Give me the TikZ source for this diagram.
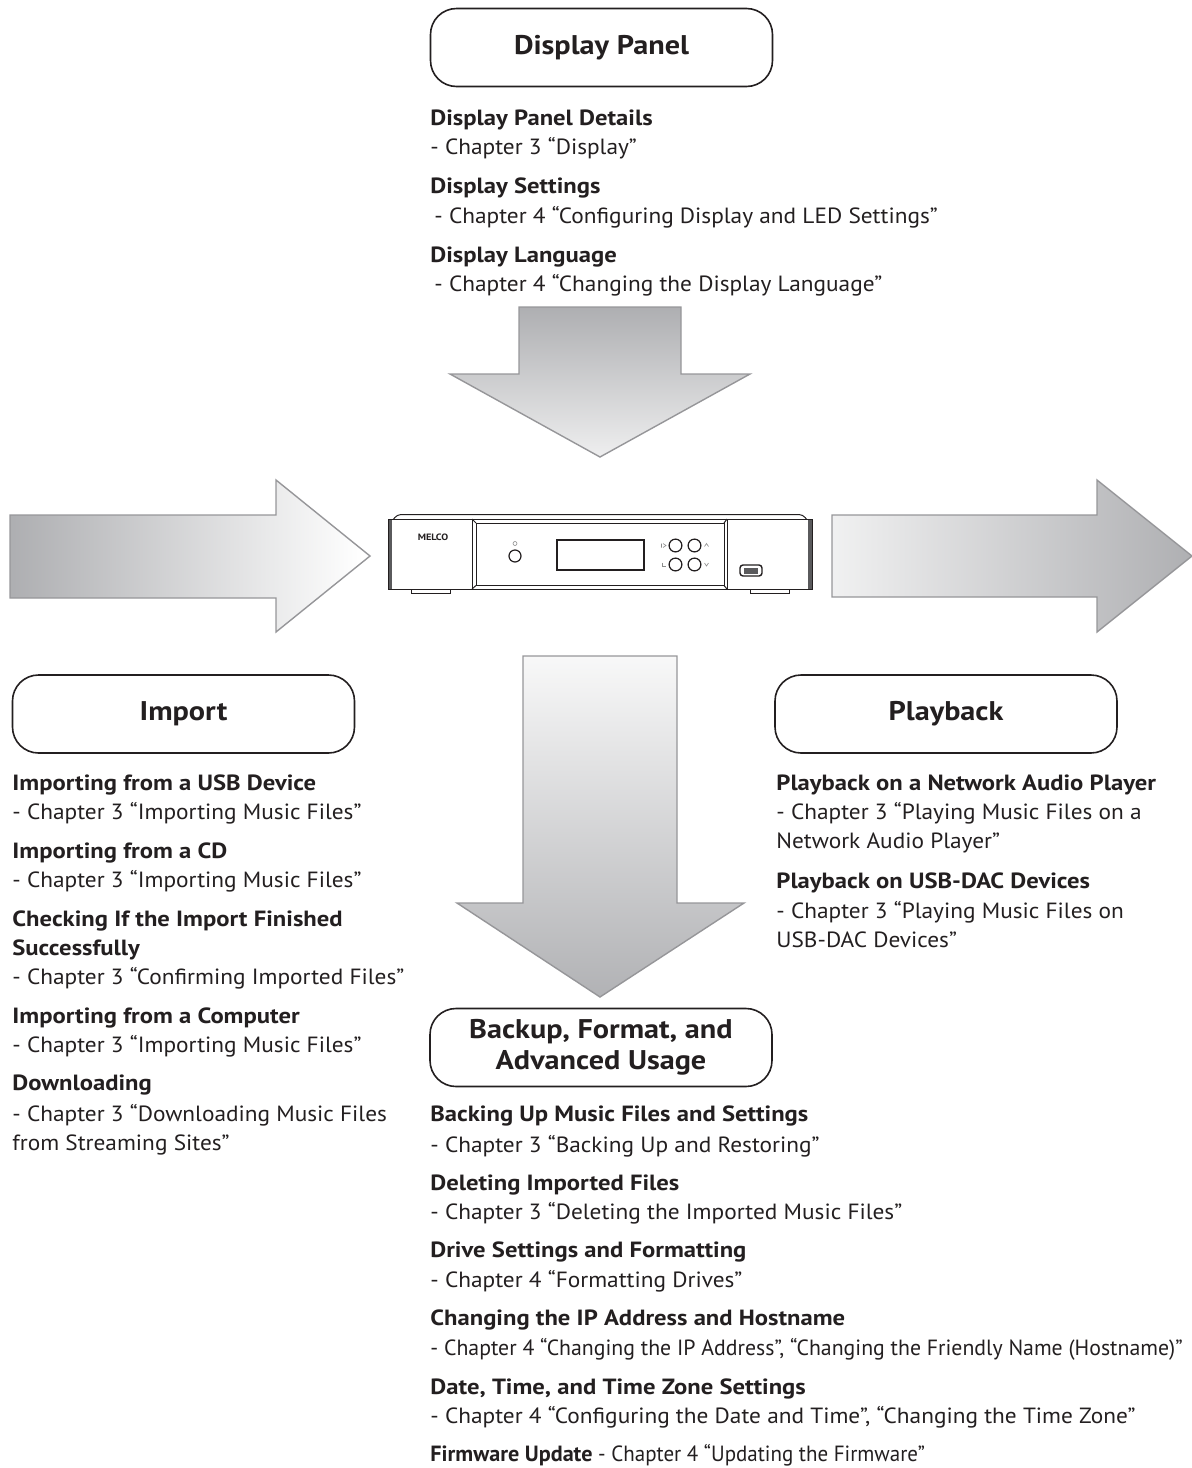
\documentclass[tikz,border=0pt]{standalone}
\usepackage{graphicx}
\usepackage{fontspec}
\setmainfont{PT Sans}[UprightFeatures={FakeStretch=1.06}, BoldFeatures={FakeStretch=1.12}]
\definecolor{arrowdark}{RGB}{142,143,147}
\definecolor{arrowline}{RGB}{150,150,153}
\definecolor{inkc}{RGB}{35,31,32}
\definecolor{stripgray}{RGB}{90,90,92}
\pgfdeclarehorizontalshading{leftshade}{100bp}{color(0bp)=(arrowdark); color(6bp)=(arrowdark); color(74bp)=(white); color(100bp)=(white)}
\pgfdeclarehorizontalshading{rightshade}{100bp}{color(0bp)=(white); color(14bp)=(white); color(100bp)=(arrowdark)}
\pgfdeclareverticalshading{topshade}{100bp}{color(0bp)=(white); color(12bp)=(white); color(100bp)=(arrowdark)}
\pgfdeclareverticalshading{bottomshade}{100bp}{color(0bp)=(arrowdark); color(80bp)=(white); color(100bp)=(white)}
\newcommand{\bodyfont}{\fontsize{11}{13}\selectfont}
\newcommand{\titlefont}{\fontsize{13.5}{15.5}\selectfont\bfseries}
\tikzset{
  bigarrow/.style={draw=arrowline, line width=0.7pt},
  titlebox/.style={draw=inkc, line width=0.8pt, rounded corners=13pt, minimum width=171pt, minimum height=39pt, inner sep=0pt, font=\titlefont, text=inkc, align=center},
  txt/.style={anchor=base west, inner sep=0pt, font=\bodyfont, text=inkc},
  hd/.style={txt, font=\bodyfont\bfseries},
  devline/.style={draw=inkc, line width=0.5pt},
  tinyicon/.style={draw=black!45, line width=0.3pt}
}
\begin{document}
\begin{tikzpicture}[x=0.5pt,y=-0.5pt]
\useasboundingbox (0,0) rectangle (1192,1468);

% ---------- big arrows ----------
\shadedraw[bigarrow, shading=topshade] (519,307) -- (681,307) -- (681,374) -- (750,374) -- (600,457) -- (450,374) -- (519,374) -- cycle;
\shadedraw[bigarrow, shading=leftshade] (10,515) -- (276,515) -- (276,480) -- (370,556) -- (276,632) -- (276,598) -- (10,598) -- cycle;
\shadedraw[bigarrow, shading=rightshade] (832,515) -- (1097,515) -- (1097,480) -- (1192,556) -- (1097,632) -- (1097,597) -- (832,597) -- cycle;
\shadedraw[bigarrow, shading=bottomshade] (523,656) -- (677,656) -- (677,903) -- (744,903) -- (600,997) -- (457,903) -- (523,903) -- cycle;

% ---------- device ----------
\draw[devline, rounded corners=2pt] (393,520) -- (397,514.5) -- (803,514.5) -- (807,520);
\fill[white] (388,519) rectangle (812,589);
\fill[stripgray] (388,519) rectangle (392,589);
\fill[stripgray] (808,519) rectangle (812,589);
\draw[devline] (388,519) rectangle (812,589);
\draw[devline] (472,519) -- (472,589);
\draw[devline] (727,519) -- (727,589);
\draw[devline] (476,523) rectangle (724,585.5);
\draw[devline] (472,519) -- (476,523) (727,519) -- (724,523) (472,589) -- (476,585.5) (727,589) -- (724,585.5);
\draw[devline] (411,589) -- (411,593) -- (450,593) -- (450,589);
\draw[devline] (750,589) -- (750,593) -- (789,593) -- (789,589);
\node[inner sep=0pt, font=\fontsize{4.6}{5}\selectfont\bfseries, text=inkc] (melco) at (433,537) {MELCO};
% power button
\draw[devline, line width=0.6pt] (515,556) circle (3pt);
\draw[tinyicon] (515,543.5) circle (1pt);
% display window
\draw[devline, line width=0.6pt] (557,540) rectangle (644,570);
\draw[draw=inkc, line width=1.2pt] (557,570) -- (644,570);
% buttons
\draw[devline, line width=0.6pt] (675.5,545.5) circle (3.2pt);
\draw[devline, line width=0.6pt] (694.5,545.5) circle (3.2pt);
\draw[devline, line width=0.6pt] (675.5,564.5) circle (3.2pt);
\draw[devline, line width=0.6pt] (694.5,564.5) circle (3.2pt);
\draw[tinyicon] (663,543.5) -- (666,545.5) -- (663,547.5) (661.5,543.5) -- (661.5,547.5);
\draw[tinyicon] (704.5,546.5) -- (706.5,543.5) -- (708.5,546.5);
\draw[tinyicon] (662,562.5) -- (662,566) -- (666,566);
\draw[tinyicon] (704.5,563) -- (706.5,566) -- (708.5,563);
% USB port
\draw[devline, line width=0.7pt, rounded corners=1.5pt] (740,565) rectangle (762,576);
\fill[stripgray] (744,567.5) rectangle (758,573.5);

% ---------- title boxes ----------
\node[titlebox] (dp) at (601.5,47.5) {Display Panel};
\node[titlebox] (imp) at (183.5,714) {Import};
\node[titlebox] (pb) at (946,714) {Playback};
\node[titlebox] (bk) at (601,1047.5) {Backup, Format, and\\Advanced Usage};

% ---------- Display Panel texts ----------
\node[hd]  (d1) at (430,125) {Display Panel Details};
\node[txt] (d2) at (430,154) {- Chapter 3 “Display”};
\node[hd]  (d3) at (430,193) {Display Settings};
\node[txt] (d4) at (434,223) {- Chapter 4 “Configuring Display and LED Settings”};
\node[hd]  (d5) at (430,262) {Display Language};
\node[txt] (d6) at (434,291) {- Chapter 4 “Changing the Display Language”};

% ---------- Import texts ----------
\node[hd]  (i1) at (12,790) {Importing from a USB Device};
\node[txt] (i2) at (12,819) {- Chapter 3 “Importing Music Files”};
\node[hd]  (i3) at (12,858) {Importing from a CD};
\node[txt] (i4) at (12,887) {- Chapter 3 “Importing Music Files”};
\node[hd]  (i5) at (12,926) {Checking If the Import Finished};
\node[hd]  (i6) at (12,955) {Successfully};
\node[txt] (i7) at (12,984) {- Chapter 3 “Confirming Imported Files”};
\node[hd]  (i8) at (12,1023) {Importing from a Computer};
\node[txt] (i9) at (12,1052) {- Chapter 3 “Importing Music Files”};
\node[hd]  (i10) at (12,1090) {Downloading};
\node[txt] (i11) at (12,1121) {- Chapter 3 “Downloading Music Files};
\node[txt] (i12) at (12,1150) {from Streaming Sites”};

% ---------- Playback texts ----------
\node[hd]  (p1) at (776,790) {Playback on a Network Audio Player};
\node[txt] (p2) at (776,819) {- Chapter 3 “Playing Music Files on a};
\node[txt] (p3) at (776,848) {Network Audio Player”};
\node[hd]  (p4) at (776,888) {Playback on USB-DAC Devices};
\node[txt] (p5) at (776,918) {- Chapter 3 “Playing Music Files on};
\node[txt] (p6) at (776,947) {USB-DAC Devices”};

% ---------- Backup texts ----------
\node[hd]  (b1) at (430,1121) {Backing Up Music Files and Settings};
\node[txt] (b2) at (430,1152) {- Chapter 3 “Backing Up and Restoring”};
\node[hd]  (b3) at (430,1190) {Deleting Imported Files};
\node[txt] (b4) at (430,1219) {- Chapter 3 “Deleting the Imported Music Files”};
\node[hd]  (b5) at (430,1257) {Drive Settings and Formatting};
\node[txt] (b6) at (430,1287) {- Chapter 4 “Formatting Drives”};
\node[hd]  (b7) at (430,1325) {Changing the IP Address and Hostname};
\node[txt] (b8) at (430,1355) {\scalebox{0.935}[1]{- Chapter 4 “Changing the IP Address”, “Changing the Friendly Name (Hostname)”}};
\node[hd]  (b9) at (430,1394) {Date, Time, and Time Zone Settings};
\node[txt] (b10) at (430,1423) {- Chapter 4 “Configuring the Date and Time”, “Changing the Time Zone”};
\node[txt] (b11) at (430,1461) {\scalebox{0.9}[1]{\textbf{Firmware Update} - Chapter 4 “Updating the Firmware”}};
\end{tikzpicture}
\end{document}
